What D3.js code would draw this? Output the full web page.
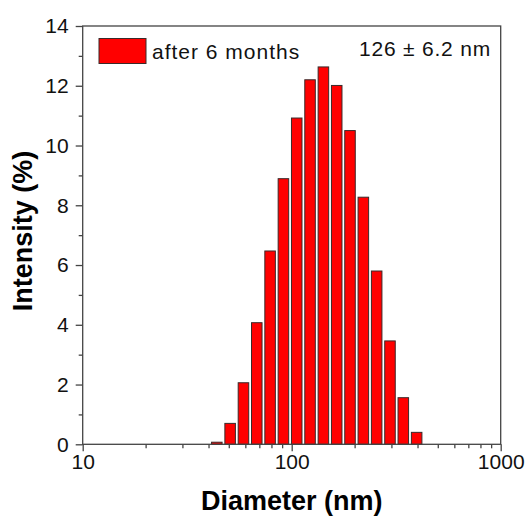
<!DOCTYPE html>
<html>
<head>
<meta charset="utf-8">
<script src="https://cdn.jsdelivr.net/npm/d3@7"></script>
<style>
  body { margin: 0; background: #fff; }
  svg { font-family: "Liberation Sans", Arial, sans-serif; }
</style>
</head>
<body>
<div id="chart"></div>
<script>
// Zetasizer size classes (nm) and intensity (%)
var diameters = [43.82, 50.75, 58.77, 68.06, 78.82, 91.28, 105.7, 122.4, 141.8, 164.2, 190.1, 220.2, 255.0, 295.3, 342.0, 396.1];
var intensity = [0.07, 0.70, 2.06, 4.07, 6.47, 8.89, 10.92, 12.2, 12.63, 12.01, 10.5, 8.27, 5.8, 3.46, 1.56, 0.40];
var xMajor = [10, 100, 1000];
var xMinor = [20, 30, 40, 50, 60, 70, 80, 90, 200, 300, 400, 500, 600, 700, 800, 900];
var yMajor = [0, 2, 4, 6, 8, 10, 12, 14];
var yMinor = [1, 3, 5, 7, 9, 11, 13];
var legendLabel = 'after 6 months';
var sizeNote = '126 \u00b1 6.2 nm';

var width = 531, height = 518;
// note: "top" is taken by window.top, so the plot box uses its own names
var boxLeft = 82.7, boxRight = 500.7, boxTop = 26, boxBottom = 444.3;
var binRatio = 396.1 / 342.0;

var x = d3.scaleLog().domain([10, 1000]).range([boxLeft, boxRight]);
var y = d3.scaleLinear().domain([0, 14]).range([boxBottom, boxTop]);

var svg = d3.select('#chart').append('svg')
    .attr('width', width).attr('height', height);

var data = diameters.map(function(d, i) { return { d: d, v: intensity[i] }; });

// bars
svg.append('g').selectAll('rect').data(data).enter()
   .append('rect')
   .attr('x', function(p) {
       var step = x(p.d * binRatio) - x(p.d);
       return x(p.d) - step * 0.395;
   })
   .attr('width', function(p) { return (x(p.d * binRatio) - x(p.d)) * 0.79; })
   .attr('y', function(p) { return y(p.v); })
   .attr('height', function(p) { return y(0) - y(p.v); })
   .attr('fill', '#ff0000')
   .attr('stroke', '#3a2a2a')
   .attr('stroke-width', 1);

// axes
var xAxis = d3.axisBottom(x).tickValues(xMajor).tickSize(7).tickPadding(3)
    .tickFormat(d3.format('d'));
var xAxisMinor = d3.axisBottom(x).tickValues(xMinor).tickSize(4).tickFormat('');
var yAxis = d3.axisLeft(y).tickValues(yMajor).tickSize(7).tickPadding(7);
var yAxisMinor = d3.axisLeft(y).tickValues(yMinor).tickSize(4).tickFormat('');

function styleAxis(g) {
    g.attr('font-family', null).attr('font-size', null);
    g.select('.domain').remove();
    g.selectAll('line').attr('stroke', '#444').attr('stroke-width', 1.3);
    g.selectAll('text').attr('fill', '#111').style('font-size', '21px');
}

svg.append('g').attr('transform', 'translate(0,' + boxBottom + ')').call(xAxis).call(styleAxis);
svg.append('g').attr('transform', 'translate(0,' + boxBottom + ')').call(xAxisMinor).call(styleAxis);
svg.append('g').attr('transform', 'translate(' + boxLeft + ',0)').call(yAxis).call(styleAxis);
svg.append('g').attr('transform', 'translate(' + boxLeft + ',0)').call(yAxisMinor).call(styleAxis);

// frame
svg.append('rect')
   .attr('x', boxLeft).attr('y', boxTop)
   .attr('width', boxRight - boxLeft).attr('height', boxBottom - boxTop)
   .attr('fill', 'none').attr('stroke', '#444').attr('stroke-width', 1.3);

// axis titles
svg.append('text')
   .attr('x', (boxLeft + boxRight) / 2).attr('y', 510)
   .attr('text-anchor', 'middle')
   .style('font-size', '27px').style('font-weight', 'bold')
   .text('Diameter (nm)');

svg.append('text')
   .attr('transform', 'translate(32,231) rotate(-90)')
   .attr('text-anchor', 'middle')
   .style('font-size', '27px').style('font-weight', 'bold')
   .text('Intensity (%)');

// legend
svg.append('rect')
   .attr('x', 99).attr('y', 38.5).attr('width', 47).attr('height', 25)
   .attr('fill', '#ff0000').attr('stroke', '#3a2a2a').attr('stroke-width', 1);
svg.append('text')
   .attr('x', 152).attr('y', 58.5)
   .style('font-size', '21px').style('letter-spacing', '1px')
   .attr('fill', '#111')
   .text(legendLabel);
svg.append('text')
   .attr('x', 491).attr('y', 55.5)
   .attr('text-anchor', 'end')
   .style('font-size', '21px').style('letter-spacing', '0.8px')
   .attr('fill', '#111')
   .text(sizeNote);
</script>
</body>
</html>
